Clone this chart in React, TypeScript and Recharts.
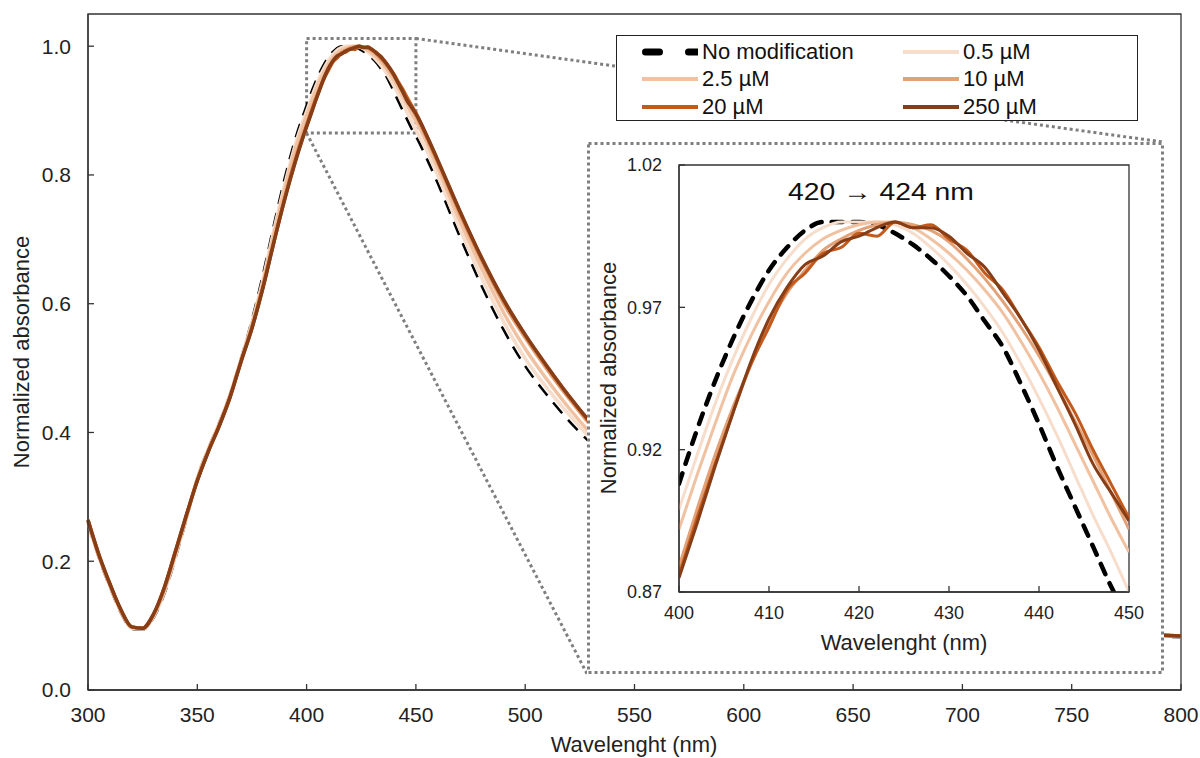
import React from "react";
import { LineChart, Line, XAxis, YAxis, ReferenceArea, ReferenceLine, Legend } from "recharts";

const FONT = '"Liberation Sans", Arial, sans-serif';

// wavelength grid (nm): 5 nm steps, 2 nm across the zoomed peak, coarse tail
const wavelengths = [
  300, 305, 310, 315, 320, 325, 330, 335, 340, 345, 350, 355, 360, 365, 370, 375, 380, 385, 390, 395,
  400, 402, 404, 406, 408, 410, 412, 414, 416, 418, 420, 422, 424, 426, 428, 430, 432, 434, 436, 438, 440, 442, 444, 446, 448, 450,
  455, 460, 470, 480, 490, 500, 510, 520, 530, 540, 550, 560, 580, 600, 650, 700, 750, 800,
];

const noModification = [
  0.258, 0.205, 0.16, 0.12, 0.095, 0.094, 0.112, 0.15, 0.205, 0.265, 0.33, 0.375, 0.415, 0.46, 0.515, 0.575, 0.645, 0.722, 0.795, 0.858,
  0.908, 0.927, 0.944, 0.959, 0.972, 0.983, 0.991, 0.997, 1.0, 1.0, 1.0, 0.999, 0.996, 0.992, 0.987, 0.981, 0.974, 0.965, 0.956, 0.943, 0.929, 0.914, 0.9, 0.886, 0.872, 0.86,
  0.825, 0.787, 0.705, 0.628, 0.56, 0.503, 0.458, 0.418, 0.383, 0.35, 0.316, 0.285, 0.23, 0.192, 0.134, 0.105, 0.09, 0.082,
];

const uM05 = [
  0.26, 0.207, 0.162, 0.122, 0.096, 0.095, 0.114, 0.153, 0.208, 0.267, 0.329, 0.374, 0.414, 0.459, 0.514, 0.571, 0.637, 0.714, 0.785, 0.849,
  0.899, 0.918, 0.936, 0.952, 0.966, 0.978, 0.987, 0.994, 0.998, 1.0, 1.0, 1.0, 0.999, 0.996, 0.991, 0.985, 0.978, 0.97, 0.961, 0.95, 0.938, 0.925, 0.911, 0.897, 0.884, 0.87,
  0.838, 0.799, 0.717, 0.641, 0.573, 0.515, 0.469, 0.428, 0.39, 0.356, 0.322, 0.289, 0.232, 0.194, 0.135, 0.106, 0.09, 0.083,
];

const uM25 = [
  0.261, 0.208, 0.163, 0.123, 0.097, 0.095, 0.115, 0.155, 0.21, 0.268, 0.328, 0.373, 0.413, 0.458, 0.513, 0.568, 0.632, 0.707, 0.778, 0.842,
  0.892, 0.911, 0.929, 0.946, 0.96, 0.972, 0.982, 0.989, 0.994, 0.997, 0.999, 1.0, 1.0, 0.998, 0.994, 0.989, 0.983, 0.976, 0.968, 0.958, 0.947, 0.935, 0.922, 0.909, 0.896, 0.884,
  0.85, 0.811, 0.73, 0.655, 0.587, 0.53, 0.482, 0.438, 0.398, 0.362, 0.328, 0.294, 0.234, 0.195, 0.136, 0.107, 0.091, 0.083,
];

const uM10 = [
  0.263, 0.209, 0.164, 0.124, 0.098, 0.096, 0.117, 0.158, 0.214, 0.27, 0.326, 0.371, 0.411, 0.456, 0.511, 0.564, 0.627, 0.698, 0.766, 0.828,
  0.879, 0.899, 0.918, 0.935, 0.95, 0.964, 0.975, 0.983, 0.99, 0.994, 0.997, 0.999, 1.0, 0.999, 0.997, 0.993, 0.987, 0.98, 0.972, 0.963, 0.953, 0.942, 0.93, 0.918, 0.905, 0.892,
  0.857, 0.819, 0.74, 0.667, 0.601, 0.547, 0.498, 0.453, 0.411, 0.373, 0.338, 0.303, 0.237, 0.197, 0.137, 0.108, 0.092, 0.084,
];

const uM20 = [
  0.264, 0.21, 0.165, 0.125, 0.098, 0.096, 0.118, 0.16, 0.216, 0.271, 0.325, 0.37, 0.41, 0.455, 0.51, 0.562, 0.625, 0.695, 0.763, 0.824,
  0.876, 0.896, 0.915, 0.933, 0.95, 0.963, 0.976, 0.982, 0.989, 0.991, 0.996, 0.995, 1.0, 0.998, 0.999, 0.994, 0.99, 0.982, 0.976, 0.966, 0.956, 0.944, 0.933, 0.92, 0.908, 0.896,
  0.86, 0.822, 0.744, 0.671, 0.606, 0.551, 0.502, 0.456, 0.414, 0.376, 0.34, 0.305, 0.238, 0.198, 0.138, 0.108, 0.092, 0.084,
];

const uM250 = [
  0.264, 0.21, 0.165, 0.125, 0.098, 0.096, 0.118, 0.16, 0.215, 0.272, 0.325, 0.37, 0.41, 0.455, 0.51, 0.562, 0.624, 0.695, 0.762, 0.822,
  0.875, 0.894, 0.914, 0.933, 0.951, 0.966, 0.977, 0.985, 0.988, 0.993, 0.995, 0.998, 1.0, 0.998, 0.998, 0.995, 0.989, 0.984, 0.975, 0.966, 0.955, 0.942, 0.929, 0.915, 0.905, 0.895,
  0.861, 0.823, 0.745, 0.672, 0.607, 0.552, 0.503, 0.457, 0.415, 0.377, 0.342, 0.306, 0.238, 0.198, 0.138, 0.108, 0.092, 0.084,
];

const mainXTicks = [300, 350, 400, 450, 500, 550, 600, 650, 700, 750, 800];
const mainYTicks = [0, 0.2, 0.4, 0.6, 0.8, 1.0];
const insetXTicks = [400, 410, 420, 430, 440, 450];
const insetYTicks = [0.87, 0.92, 0.97, 1.02];

const SERIES = [
  { key: "noMod", name: "No modification", values: noModification, color: "#000000", dashed: true },
  { key: "c05", name: "0.5 µM", values: uM05, color: "#F6DDCC", dashed: false },
  { key: "c25", name: "2.5 µM", values: uM25, color: "#F0C2A2", dashed: false },
  { key: "c10", name: "10 µM", values: uM10, color: "#E2A177", dashed: false },
  { key: "c20", name: "20 µM", values: uM20, color: "#C35A1C", dashed: false },
  { key: "c250", name: "250 µM", values: uM250, color: "#873D16", dashed: false },
];

const data = wavelengths.map((w, i) => {
  const row: Record<string, number> = { w };
  SERIES.forEach((s) => (row[s.key] = s.values[i]));
  return row;
});
const insetData = data.filter((d) => d.w >= 400 && d.w <= 450);

const GRAY = "#7f7f7f";
const AXIS = "#333333";

function LegendBox({ payload }: { payload?: any[] }) {
  const keys = (payload || []).map((p) => p.dataKey);
  const items = SERIES.filter((s) => keys.includes(s.key));
  return (
    <div
      style={{
        width: 522,
        height: 86,
        boxSizing: "border-box",
        border: "1px solid #222",
        background: "#fff",
        display: "grid",
        gridTemplateColumns: "261px 261px",
        gridAutoRows: "27.5px",
        padding: "2px 0 0 25px",
        fontFamily: FONT,
        fontSize: 22,
        color: "#111",
      }}
    >
      {items.map((s) => (
        <div key={s.key} style={{ display: "flex", alignItems: "center", lineHeight: 1 }}>
          <svg width={56} height={10} style={{ overflow: "hidden" }}>
            {s.dashed ? (
              <line x1={3.5} y1={5} x2={60} y2={5} stroke={s.color} strokeWidth={7} strokeLinecap="round" strokeDasharray="14 29" />
            ) : (
              <line x1={0} y1={5} x2={56} y2={5} stroke={s.color} strokeWidth={4} />
            )}
          </svg>
          <span style={{ marginLeft: 4 }}>{s.name}</span>
        </div>
      ))}
    </div>
  );
}

export default function App() {
  const tickStyle = { fontSize: 21, fill: "#222", fontFamily: FONT };
  const insetTick = { fontSize: 18, fill: "#222", fontFamily: FONT };
  return (
    <div style={{ position: "absolute", left: 0, top: 0, width: 1200, height: 758, background: "#fff", overflow: "hidden", fontFamily: FONT }}>
      <LineChart width={1200} height={758} data={data} margin={{ top: 14, right: 19, bottom: 38, left: 28 }}>
        <XAxis
          dataKey="w"
          type="number"
          domain={[300, 800]}
          ticks={mainXTicks}
          interval={0}
          height={30}
          tickSize={-6}
          tickMargin={23}
          stroke={AXIS}
          strokeWidth={1.3}
          tick={tickStyle}
        />
        <YAxis
          type="number"
          domain={[0, 1.05]}
          ticks={mainYTicks}
          interval={0}
          width={60}
          tickSize={-6}
          tickMargin={23}
          stroke={AXIS}
          strokeWidth={1.3}
          tick={tickStyle}
          tickFormatter={(v: number) => v.toFixed(1)}
        />
        <ReferenceArea x1={300} x2={800} y1={0} y2={1.05} fill="none" stroke={AXIS} strokeWidth={1.3} />
        {SERIES.map((s) => (
          <Line
            key={s.key}
            dataKey={s.key}
            name={s.name}
            type="monotone"
            stroke={s.color}
            strokeWidth={s.dashed ? 2.5 : 3.5}
            strokeDasharray={s.dashed ? "14 9" : undefined}
            dot={false}
            activeDot={false}
            isAnimationActive={false}
          />
        ))}
        <ReferenceArea x1={400} x2={450} y1={0.865} y2={1.012} fill="none" stroke={GRAY} strokeWidth={3} strokeDasharray="3 3" />
        <ReferenceLine segment={[{ x: 450, y: 1.012 }, { x: 792.2, y: 0.851 }]} stroke={GRAY} strokeWidth={3} strokeDasharray="3 3" />
        <ReferenceLine segment={[{ x: 400, y: 0.865 }, { x: 528.3, y: 0.025 }]} stroke={GRAY} strokeWidth={3} strokeDasharray="3 3" />
        <Legend
          layout="horizontal"
          verticalAlign="middle"
          align="center"
          wrapperStyle={{ position: "absolute", left: 616, top: 35, width: 522, height: 86, margin: 0 }}
          content={(props: any) => <LegendBox payload={props.payload} />}
        />
      </LineChart>

      <div
        style={{
          position: "absolute",
          left: 22,
          top: 352,
          transform: "translate(-50%, -50%) rotate(-90deg)",
          whiteSpace: "nowrap",
          fontSize: 22,
          lineHeight: 1,
          color: "#222",
        }}
      >
        Normalized absorbance
      </div>
      <div
        style={{
          position: "absolute",
          left: 634,
          top: 745,
          transform: "translate(-50%, -50%)",
          whiteSpace: "nowrap",
          fontSize: 22,
          lineHeight: 1,
          color: "#222",
        }}
      >
        Wavelenght (nm)
      </div>

      {/* zoomed inset */}
      <div style={{ position: "absolute", left: 587, top: 142, width: 577, height: 532, background: "#fff" }}>
        <LineChart width={577} height={532} data={insetData} margin={{ top: 23, right: 35, bottom: 52, left: 0 }}>
          <XAxis
            dataKey="w"
            type="number"
            domain={[400, 450]}
            ticks={insetXTicks}
            interval={0}
            height={30}
            tickSize={-6}
            tickMargin={20}
            stroke={AXIS}
            strokeWidth={1.3}
            tick={insetTick}
            allowDataOverflow
          />
          <YAxis
            type="number"
            domain={[0.87, 1.02]}
            ticks={insetYTicks}
            interval={0}
            width={92}
            tickSize={-6}
            tickMargin={23}
            stroke={AXIS}
            strokeWidth={1.3}
            tick={insetTick}
            tickFormatter={(v: number) => v.toFixed(2)}
            allowDataOverflow
          />
          <ReferenceArea x1={400} x2={450} y1={0.87} y2={1.02} fill="none" stroke={AXIS} strokeWidth={1.3} />
          {SERIES.map((s) => (
            <Line
              key={s.key}
              dataKey={s.key}
              name={s.name}
              type="monotone"
              stroke={s.color}
              strokeWidth={s.dashed ? 4.5 : 3}
              strokeDasharray={s.dashed ? "11 10" : undefined}
              strokeLinecap={s.dashed ? "round" : "butt"}
              dot={false}
              activeDot={false}
              isAnimationActive={false}
            />
          ))}
        </LineChart>
        <svg width={577} height={532} style={{ position: "absolute", left: 0, top: 0, pointerEvents: "none" }}>
          <rect x={1.5} y={1.5} width={574} height={529} fill="none" stroke={GRAY} strokeWidth={3} strokeDasharray="3 3" />
        </svg>
        <div
          style={{
            position: "absolute",
            left: 294,
            top: 50,
            transform: "translate(-50%, -50%) scaleX(1.18)",
            whiteSpace: "nowrap",
            fontSize: 24,
            color: "#111",
          }}
        >
          420 → 424 nm
        </div>
        <div
          style={{
            position: "absolute",
            left: 22,
            top: 236,
            transform: "translate(-50%, -50%) rotate(-90deg)",
            whiteSpace: "nowrap",
            fontSize: 22,
            lineHeight: 1,
            color: "#222",
          }}
        >
          Normalized absorbance
        </div>
        <div
          style={{
            position: "absolute",
            left: 317,
            top: 501,
            transform: "translate(-50%, -50%)",
            whiteSpace: "nowrap",
            fontSize: 22,
            lineHeight: 1,
            color: "#222",
          }}
        >
          Wavelenght (nm)
        </div>
      </div>
    </div>
  );
}
